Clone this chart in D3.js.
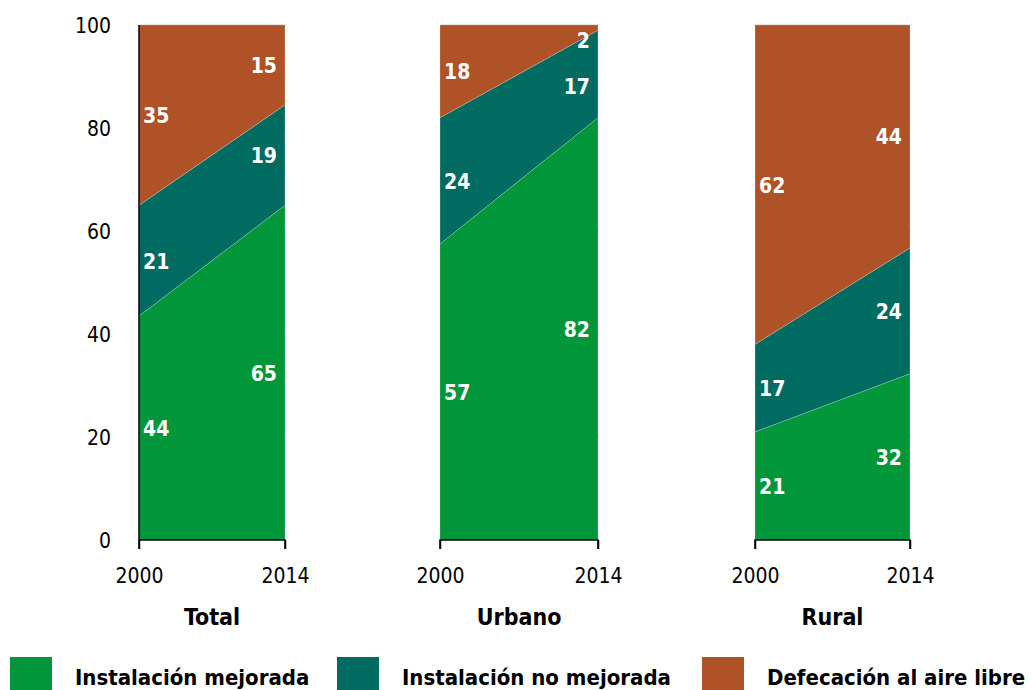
<!DOCTYPE html>
<html><head><meta charset="utf-8">
<script src="https://cdn.jsdelivr.net/npm/d3@7"></script>
<style>body{margin:0;background:#fff}svg{display:block}</style>
</head><body>
<svg id="c" width="1034" height="690"></svg>
<script>
// ---- data ----
const panels = ["Total", "Urbano", "Rural"];
const years = [2000, 2014];
const seriesNames = ["Instalación mejorada", "Instalación no mejorada", "Defecación al aire libre"];
// values per panel: [2000, 2014]
const improved   = [[43.5, 65], [57.5, 82], [21, 32.3]];
const unimproved = [[21.5, 19.5], [24.5, 17], [17, 24.4]];
const openDef    = [[35, 15.5], [18, 1], [62, 43.3]];
// printed labels
const improvedLbl   = [[44, 65], [57, 82], [21, 32]];
const unimprovedLbl = [[21, 19], [24, 17], [17, 24]];
const openDefLbl    = [[35, 15], [18, 2], [62, 44]];
const yTicks = [0, 20, 40, 60, 80, 100];

// ---- layout ----
const colors = ["#009639", "#006c61", "#b05227"];
const panelLeft = [139, 440, 755];
const panelRight = [285, 598, 910];
const svg = d3.select("#c");
const y = d3.scaleLinear().domain([0, 100]).range([540, 25]);
const FONT = "'DejaVu Sans Condensed', 'DejaVu Sans', sans-serif";

// y axis labels
svg.append("g").selectAll("text").data(yTicks).join("text")
  .attr("x", 111).attr("y", d => y(d) + 8)
  .attr("text-anchor", "end").attr("font-family", FONT).attr("font-size", 21)
  .attr("fill", "#000").text(d => d);

const valArrs = [improved, unimproved, openDef];
const lblArrs = [improvedLbl, unimprovedLbl, openDefLbl];

panels.forEach((p, pi) => {
  const x = d3.scaleLinear().domain([2000, 2014]).range([panelLeft[pi], panelRight[pi]]);
  const g = svg.append("g");
  // gridlines
  g.selectAll("line.grid").data(yTicks.filter(d => d > 0)).join("line")
    .attr("x1", x(2000)).attr("x2", x(2014) + 1)
    .attr("y1", d => y(d)).attr("y2", d => y(d))
    .attr("stroke", "#d9d9d9").attr("stroke-width", 1.5);
  const rows = years.map((yr, yi) => {
    const o = { year: yr };
    seriesNames.forEach((s, si) => o[s] = valArrs[si][pi][yi]);
    return o;
  });
  const stacked = d3.stack().keys(seriesNames)(rows);
  const area = d3.area().x(d => x(d.data.year)).y0(d => y(d[0])).y1(d => y(d[1]));
  g.selectAll("path.a").data(stacked).join("path")
    .attr("d", area).attr("fill", (d, i) => colors[i])
    .attr("stroke", "rgba(255,255,255,0.35)").attr("stroke-width", 0.6);

  // labels
  years.forEach((yr, yi) => {
    let prevY = null;
    for (let si = seriesNames.length - 1; si >= 0; si--) {
      const seg = stacked[si][yi];
      let ly = y((seg[0] + seg[1]) / 2) + 8;
      const minY = y(100) + 23;
      if (ly < minY) ly = minY;
      if (prevY !== null && ly < prevY + 46) ly = prevY + 46;
      prevY = ly;
      g.append("text")
        .attr("x", yi === 0 ? x(yr) + 4 : x(yr) - 8)
        .attr("y", ly)
        .attr("text-anchor", yi === 0 ? "start" : "end")
        .attr("font-family", FONT).attr("font-weight", "bold").attr("font-size", 21)
        .attr("fill", "#fff").text(lblArrs[si][pi][yi]);
    }
  });

  // x axis
  const ax = g.append("g").attr("transform", `translate(0,${y(0)})`)
    .call(d3.axisBottom(x).tickValues(years).tickFormat(d3.format("d")).tickSize(9));
  ax.select(".domain").attr("stroke", "#000").attr("stroke-width", 1.5)
    .attr("d", `M${x(2000)},9V0H${x(2014)}V9`);
  ax.selectAll(".tick line").attr("stroke", "#000").attr("stroke-width", 1.5);
  ax.selectAll(".tick text").attr("font-family", FONT).attr("font-size", 21).attr("fill", "#000")
    .attr("y", 43).attr("dy", null);

  // panel title
  g.append("text").attr("x", (x(2000) + x(2014)) / 2).attr("y", 625)
    .attr("text-anchor", "middle").attr("font-family", FONT).attr("font-weight", "bold")
    .attr("font-size", 23).attr("fill", "#000").text(p);
});

// y axis line
svg.append("line").attr("x1", 139).attr("x2", 139).attr("y1", y(100)).attr("y2", y(0))
  .attr("stroke", "#000").attr("stroke-width", 1.5);

// legend
const legX = [10, 337, 702];
const leg = svg.append("g");
seriesNames.forEach((s, i) => {
  leg.append("rect").attr("x", legX[i]).attr("y", 657).attr("width", 42).attr("height", 33).attr("fill", colors[i]);
  leg.append("text").attr("x", legX[i] + 65).attr("y", 685)
    .attr("font-family", FONT).attr("font-weight", "bold")
    .attr("font-size", 22).attr("fill", "#000").text(s);
});
</script>
</body></html>
